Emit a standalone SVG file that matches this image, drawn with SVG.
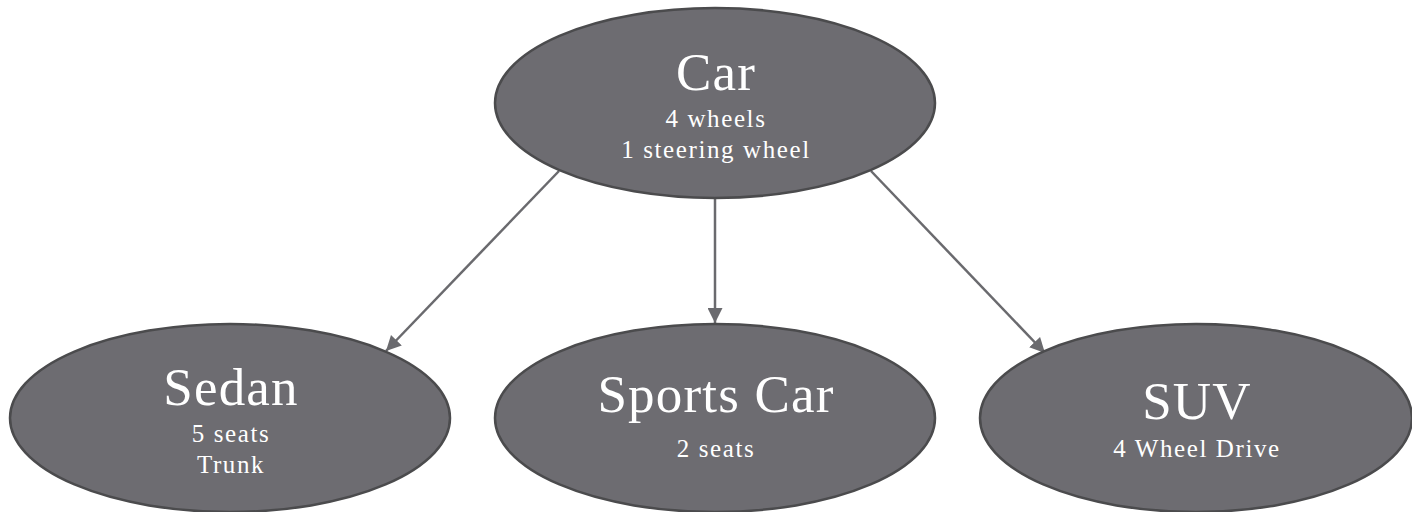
<svg xmlns="http://www.w3.org/2000/svg" width="1412" height="512" viewBox="0 0 1412 512">
<defs>
<style>
.node{fill:#6d6c71;stroke:#4b4b4d;stroke-width:2.5}
.t{fill:#fff;font-family:"Liberation Serif","DejaVu Serif",serif;text-anchor:middle}
.big{font-size:53px;letter-spacing:1.2px}
.small{font-size:25px;letter-spacing:1.6px}
.edge{stroke:#6a6a6e;stroke-width:2.5;fill:none;marker-end:url(#ah)}
</style>
<marker id="ah" viewBox="0 0 10 10" refX="10" refY="5" markerWidth="6" markerHeight="6" markerUnits="strokeWidth" orient="auto">
<path d="M0,0 L10,5 L0,10 Z" fill="#6a6a6e"/>
</marker>
</defs>
<rect width="1412" height="512" fill="#fff"/>
<g id="connectors">
<line class="edge" x1="559" y1="171" x2="386" y2="351"/>
<line class="edge" x1="715" y1="199" x2="715" y2="323"/>
<line class="edge" x1="871" y1="171" x2="1045" y2="353"/>
</g>
<g id="car">
<ellipse class="node" cx="715" cy="103" rx="220" ry="95"/>
<text class="t big" x="716" y="90">Car</text>
<text class="t small" x="716" y="127">4 wheels</text>
<text class="t small" x="716" y="158">1 steering wheel</text>
</g>
<g id="sedan">
<ellipse class="node" cx="230" cy="418" rx="220" ry="94"/>
<text class="t big" x="231" y="405">Sedan</text>
<text class="t small" x="231" y="442">5 seats</text>
<text class="t small" x="231" y="473">Trunk</text>
</g>
<g id="sportscar">
<ellipse class="node" cx="715" cy="418" rx="220" ry="94"/>
<text class="t big" x="716" y="412">Sports Car</text>
<text class="t small" x="716" y="457">2 seats</text>
</g>
<g id="suv">
<ellipse class="node" cx="1196" cy="418" rx="216" ry="94"/>
<text class="t big" x="1197" y="419">SUV</text>
<text class="t small" x="1197" y="457">4 Wheel Drive</text>
</g>
</svg>
